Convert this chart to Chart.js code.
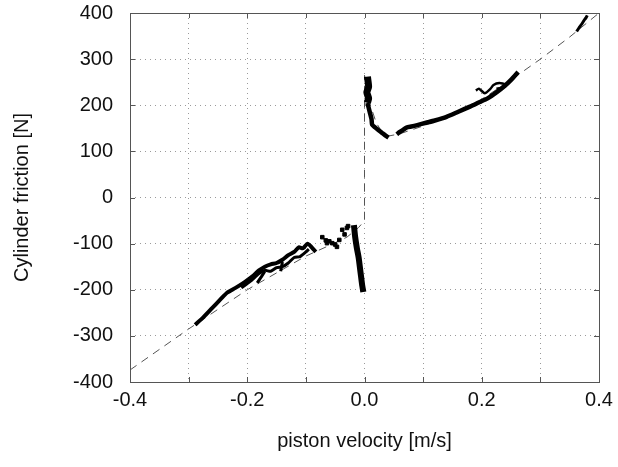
<!DOCTYPE html>
<html>
<head>
<meta charset="utf-8">
<script src="https://cdn.jsdelivr.net/npm/chart.js@4.4.0/dist/chart.umd.min.js"></script>
<style>
  html, body { margin: 0; padding: 0; background: #fff; }
  #wrap { width: 618px; height: 467px; }
</style>
</head>
<body>
<div id="wrap"><canvas id="frictionChart" width="618" height="467"></canvas></div>
<script>
// model curve (dashed)
const modelV = [-0.4, -0.3, -0.2, -0.1, -0.06, -0.03, -0.01, 0, 0, 0.01, 0.02, 0.03, 0.04, 0.06, 0.1, 0.15, 0.2, 0.25, 0.3, 0.35, 0.4];
const modelF = [-374, -285, -200, -127, -104, -86, -65, -50, 265, 200, 162, 142, 133, 138, 155, 180, 213, 255, 300, 348, 400];

// measured: positive velocity
const posStickV = [0.005, 0.007, 0.004, 0.007, 0.005];
const posStickF = [262, 240, 228, 215, 205];
const posDropV = [0.005, 0.007, 0.009, 0.012, 0.013, 0.018, 0.024, 0.03, 0.036, 0.041];
const posDropF = [205, 195, 185, 170, 158, 152, 146, 140, 134, 130];
const posRiseV = [0.055, 0.058, 0.072, 0.08, 0.09, 0.105, 0.12, 0.14, 0.16, 0.18, 0.195, 0.21, 0.225, 0.24, 0.25, 0.262];
const posRiseF = [137, 140, 152, 154, 157, 162, 167, 175, 186, 197, 206, 215, 228, 243, 255, 272];
const posLoopV = [0.19, 0.195, 0.205, 0.215, 0.22, 0.23, 0.24, 0.235, 0.225];
const posLoopF = [232, 236, 226, 236, 244, 248, 245, 238, 236];
const posTopV = [0.362, 0.366, 0.37, 0.374, 0.378, 0.38];
const posTopF = [360, 368, 375, 383, 390, 395];

// measured: negative velocity
const negMainV = [-0.289, -0.275, -0.26, -0.245, -0.235, -0.22, -0.205, -0.19, -0.18, -0.17, -0.16, -0.15, -0.14, -0.13, -0.12, -0.112, -0.105, -0.097, -0.09, -0.083];
const negMainF = [-276, -260, -240, -220, -207, -196, -184, -170, -158, -150, -145, -142, -135, -125, -118, -108, -110, -100, -108, -118];
const negLoopV = [-0.21, -0.195, -0.18, -0.17, -0.16, -0.15, -0.14, -0.13, -0.12, -0.11, -0.1, -0.095];
const negLoopF = [-196, -182, -165, -158, -160, -152, -150, -142, -130, -128, -118, -112];
const negHookAV = [-0.17, -0.176, -0.183];
const negHookAF = [-160, -172, -185];
const negHookBV = [-0.14, -0.143];
const negHookBF = [-140, -160];
const negDotsV = [-0.072, -0.066, -0.064, -0.06, -0.055, -0.05, -0.047, -0.043, -0.038, -0.034, -0.03, -0.028];
const negDotsF = [-86, -93, -99, -95, -99, -102, -107, -92, -70, -80, -66, -62];
const negStickV = [-0.018, -0.016, -0.013, -0.01, -0.008, -0.006, -0.004, -0.002];
const negStickF = [-60, -85, -110, -130, -150, -170, -190, -205];

const xTicks = [-0.4, -0.2, 0.0, 0.2, 0.4];
const xTickLabels = ["-0.4", "-0.2", "0.0", "0.2", "0.4"];

const pts = (xs, ys) => xs.map((x, i) => ({ x: x, y: ys[i] }));

const trace = (xs, ys, w) => ({
  data: pts(xs, ys),
  showLine: true,
  borderColor: "#000",
  backgroundColor: "#000",
  borderWidth: w,
  pointRadius: 0,
  tension: 0.2,
});

// frame + inward ticks like the original plot
const frameTicks = {
  id: "frameTicks",
  afterDraw(chart) {
    const { ctx, chartArea: a, scales } = chart;
    ctx.save();
    ctx.strokeStyle = "#555";
    ctx.lineWidth = 1;
    ctx.strokeRect(a.left + 0.5, a.top + 0.5, a.right - a.left, a.bottom - a.top);
    ctx.beginPath();
    for (let v = -0.4; v <= 0.4001; v += 0.1) {
      const px = Math.round(scales.x.getPixelForValue(v)) + 0.5;
      ctx.moveTo(px, a.bottom); ctx.lineTo(px, a.bottom - 5);
      ctx.moveTo(px, a.top); ctx.lineTo(px, a.top + 5);
    }
    for (let f = -400; f <= 400; f += 100) {
      const py = Math.round(scales.y.getPixelForValue(f)) + 0.5;
      ctx.moveTo(a.left, py); ctx.lineTo(a.left + 5, py);
      ctx.moveTo(a.right, py); ctx.lineTo(a.right - 5, py);
    }
    ctx.stroke();
    ctx.restore();
  },
};

const ctx = document.getElementById("frictionChart").getContext("2d");
const frictionChart = new Chart(ctx, {
  type: "scatter",
  data: {
    datasets: [
      {
        data: pts(modelV, modelF),
        showLine: true,
        borderColor: "#555",
        borderWidth: 1,
        borderDash: [8, 6],
        pointRadius: 0,
        order: 10,
      },
      trace(posStickV, posStickF, 7),
      trace(posDropV, posDropF, 4.5),
      trace(posRiseV, posRiseF, 4.5),
      trace(posLoopV, posLoopF, 2.5),
      trace(posTopV, posTopF, 3),
      trace(negMainV, negMainF, 4),
      trace(negLoopV, negLoopF, 3),
      trace(negHookAV, negHookAF, 3),
      trace(negHookBV, negHookBF, 3),
      {
        data: pts(negDotsV, negDotsF),
        borderColor: "#000",
        backgroundColor: "#000",
        pointRadius: 2.5,
        pointStyle: "rect",
      },
      trace(negStickV, negStickF, 6),
    ],
  },
  options: {
    responsive: false,
    animation: false,
    layout: { padding: { top: 13, right: 19, left: 0, bottom: 0 } },
    plugins: {
      legend: { display: false },
      tooltip: { enabled: false },
    },
    font: { family: "'Liberation Sans', Arial, sans-serif" },
    scales: {
      x: {
        type: "linear",
        min: -0.4,
        max: 0.4,
        afterFit(scale) {
          scale.height = 85;
          scale.paddingLeft = 0;
          scale.paddingRight = 0;
        },
        afterBuildTicks(scale) {
          scale.ticks = [-0.4, -0.3, -0.2, -0.1, 0, 0.1, 0.2, 0.3, 0.4].map((v) => ({ value: v }));
        },
        border: { display: false, dash: [1, 4] },
        grid: {
          color: "#9a9a9a",
          lineWidth: 1,
          drawTicks: false,
        },
        ticks: {
          padding: 6,
          color: "#111",
          maxRotation: 0,
          autoSkip: false,
          font: { size: 20, family: "'Liberation Sans', Arial, sans-serif" },
          callback(value) {
            const i = xTicks.findIndex((t) => Math.abs(t - value) < 1e-6);
            return i >= 0 ? xTickLabels[i] : "";
          },
        },
        title: {
          display: true,
          text: "piston velocity [m/s]",
          color: "#111",
          padding: { top: 0, bottom: 14 },
          font: { size: 20, family: "'Liberation Sans', Arial, sans-serif" },
        },
      },
      y: {
        type: "linear",
        min: -400,
        max: 400,
        afterFit(scale) {
          scale.width = 130;
          scale.paddingTop = 0;
          scale.paddingBottom = 0;
        },
        border: { display: false, dash: [1, 4] },
        grid: {
          color: "#9a9a9a",
          lineWidth: 1,
          drawTicks: false,
        },
        ticks: {
          stepSize: 100,
          padding: 17,
          color: "#111",
          font: { size: 20, family: "'Liberation Sans', Arial, sans-serif" },
        },
        title: {
          display: true,
          text: "Cylinder friction [N]",
          color: "#111",
          padding: { top: 10, bottom: 0 },
          font: { size: 20, family: "'Liberation Sans', Arial, sans-serif" },
        },
      },
    },
  },
  plugins: [frameTicks],
});
</script>
</body>
</html>
